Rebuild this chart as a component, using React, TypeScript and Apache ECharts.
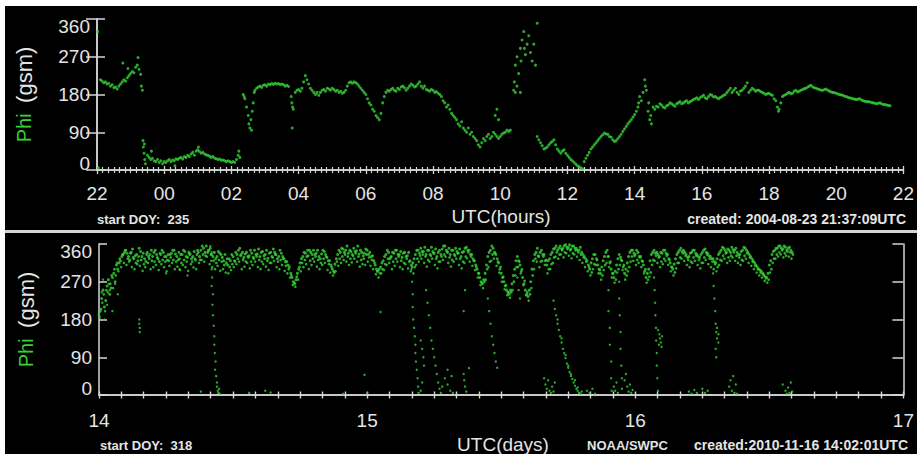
import React, { useEffect, useRef } from "react";
import * as echarts from "echarts";

// ---- tick labels ----
const hourTickLabels = ["22", "00", "02", "04", "06", "08", "10", "12", "14", "16", "18", "20", "22"];
const dayTickLabels = ["14", "15", "16", "17"];

// ---- top panel: [hours since 22 UTC on DOY 235, Phi (deg)] ----
const topPhi: [number, number][] = [
  [0.02, 330], [0.04, 5], [0.1, 215], [0.15, 212], [0.2, 208], [0.25, 210], [0.3, 205], [0.35, 207], [0.4, 200],
  [0.45, 203], [0.5, 196], [0.55, 198], [0.6, 193], [0.65, 200], [0.7, 205], [0.75, 210], [0.77, 255], [0.8, 215],
  [0.85, 212], [0.9, 220], [0.92, 242], [0.95, 225], [1.0, 230], [1.05, 235], [1.1, 232], [1.15, 245], [1.2, 250],
  [1.22, 268], [1.25, 240], [1.3, 228], [1.32, 200], [1.35, 190],
  [1.37, 70], [1.38, 55], [1.4, 40], [1.41, 62], [1.42, 25], [1.44, 15],
  [1.5, 35], [1.55, 30], [1.6, 25], [1.62, 45], [1.65, 28], [1.7, 22], [1.75, 20], [1.8, 25], [1.85, 18], [1.9, 22],
  [1.95, 15], [2.0, 20], [2.05, 18], [2.1, 22], [2.15, 25], [2.2, 20], [2.25, 24], [2.3, 22], [2.32, 10], [2.35, 27],
  [2.4, 25], [2.45, 28], [2.5, 30], [2.55, 26], [2.6, 32], [2.65, 30], [2.7, 35], [2.75, 32], [2.8, 38], [2.85, 42],
  [2.9, 35], [2.95, 45], [3.0, 48], [3.02, 55], [3.05, 44], [3.1, 40], [3.15, 42], [3.2, 38], [3.25, 36], [3.3, 35],
  [3.35, 33], [3.4, 30], [3.45, 32], [3.5, 28], [3.55, 27], [3.6, 25], [3.65, 26], [3.7, 23], [3.75, 24], [3.8, 22],
  [3.85, 20], [3.9, 22], [3.95, 20], [4.0, 18], [4.05, 20], [4.1, 18], [4.15, 25], [4.2, 35], [4.22, 45], [4.25, 30],
  [4.35, 180], [4.38, 175], [4.4, 170], [4.45, 150], [4.5, 130], [4.52, 110], [4.55, 100], [4.58, 120], [4.6, 95],
  [4.62, 140], [4.65, 160], [4.68, 185],
  [4.7, 190], [4.75, 195], [4.8, 198], [4.85, 200], [4.9, 197], [4.95, 202], [5.0, 203], [5.05, 200], [5.1, 205],
  [5.15, 203], [5.2, 206], [5.25, 204], [5.3, 207], [5.35, 205], [5.4, 206], [5.45, 204], [5.5, 205], [5.55, 203],
  [5.6, 200], [5.65, 202], [5.7, 199], [5.78, 175], [5.8, 160], [5.82, 150], [5.84, 145], [5.81, 100],
  [5.9, 185], [5.95, 190], [6.0, 192], [6.05, 188], [6.1, 195], [6.15, 210], [6.2, 225], [6.25, 215], [6.3, 205],
  [6.35, 195], [6.4, 190], [6.45, 185], [6.5, 180], [6.55, 185], [6.6, 178], [6.65, 185], [6.7, 190], [6.75, 192],
  [6.8, 188], [6.85, 195], [6.9, 193], [6.95, 190], [7.0, 195], [7.05, 192], [7.1, 188], [7.15, 190], [7.2, 185],
  [7.25, 188], [7.3, 183], [7.35, 185], [7.4, 190], [7.45, 200], [7.5, 208], [7.55, 210], [7.6, 207], [7.65, 210],
  [7.7, 208], [7.75, 205], [7.8, 200], [7.85, 195], [7.9, 190], [7.95, 185], [8.0, 180], [8.05, 170], [8.1, 160],
  [8.15, 155], [8.2, 145], [8.25, 140], [8.3, 130], [8.35, 125], [8.4, 120], [8.45, 135], [8.5, 160], [8.55, 175],
  [8.6, 185], [8.65, 190], [8.7, 188], [8.75, 192], [8.8, 195], [8.85, 190], [8.9, 188], [8.95, 195], [9.0, 192],
  [9.05, 198], [9.1, 200], [9.15, 196], [9.2, 190], [9.25, 195], [9.3, 200], [9.35, 205], [9.4, 202], [9.45, 198],
  [9.5, 200], [9.55, 205], [9.6, 210], [9.65, 200], [9.7, 195], [9.75, 200], [9.8, 192], [9.85, 190], [9.9, 188],
  [9.95, 192], [10.0, 190], [10.05, 185], [10.1, 187], [10.15, 183], [10.2, 180], [10.25, 175], [10.3, 165],
  [10.35, 160], [10.4, 150], [10.45, 155], [10.5, 145], [10.55, 135], [10.6, 130], [10.65, 125], [10.7, 120],
  [10.75, 110], [10.8, 105], [10.85, 115], [10.9, 100], [10.95, 95], [11.0, 90], [11.05, 100], [11.1, 85], [11.15, 90],
  [11.2, 80], [11.25, 75], [11.3, 70], [11.35, 60], [11.4, 55], [11.45, 65], [11.5, 75], [11.55, 70], [11.6, 80],
  [11.65, 85], [11.7, 75], [11.75, 80], [11.8, 90], [11.85, 85], [11.9, 80], [11.95, 75], [12.0, 80], [12.05, 85],
  [12.1, 88], [12.15, 90], [12.2, 95], [12.25, 92], [12.3, 95], [11.85, 130], [11.9, 145], [11.95, 120],
  [12.4, 190], [12.42, 210], [12.45, 250], [12.5, 270], [12.5, 200], [12.55, 230], [12.6, 290], [12.62, 260],
  [12.65, 310], [12.7, 330], [12.72, 290], [12.75, 275], [12.8, 300], [12.85, 320], [12.9, 280], [12.95, 260],
  [13.0, 300], [13.05, 250], [13.1, 350], [12.6, 185], [12.45, 185],
  [13.1, 80], [13.15, 72], [13.2, 65], [13.25, 58], [13.3, 50], [13.35, 52], [13.4, 55], [13.45, 60], [13.5, 65],
  [13.55, 68], [13.6, 72], [13.65, 60], [13.7, 50], [13.75, 45], [13.8, 40], [13.85, 45], [13.9, 48], [13.95, 40],
  [14.0, 35], [14.05, 30], [14.1, 25], [14.15, 22], [14.2, 18], [14.25, 14], [14.3, 10], [14.35, 8], [14.4, 5],
  [14.45, 3], [14.5, 20], [14.55, 28], [14.6, 35], [14.65, 42], [14.7, 50], [14.75, 55], [14.8, 60], [14.85, 65],
  [14.9, 70], [14.95, 75], [15.0, 80], [15.05, 84], [15.1, 88], [15.15, 86], [15.2, 85], [15.25, 80], [15.3, 78],
  [15.35, 72], [15.4, 68], [15.45, 70], [15.5, 75], [15.55, 80], [15.6, 85], [15.65, 92], [15.7, 98], [15.75, 104],
  [15.8, 110], [15.85, 115], [15.9, 120], [15.95, 126], [16.0, 132], [16.05, 140], [16.1, 150], [16.12, 160],
  [16.15, 175], [16.2, 165], [16.25, 185], [16.3, 215], [16.32, 200], [16.35, 190], [16.4, 140], [16.42, 160],
  [16.45, 120], [16.48, 130], [16.5, 110],
  [16.55, 150], [16.6, 145], [16.65, 152], [16.7, 150], [16.75, 158], [16.8, 155], [16.85, 150], [16.9, 148],
  [16.95, 153], [17.0, 155], [17.05, 160], [17.1, 158], [17.15, 155], [17.2, 152], [17.25, 158], [17.3, 160],
  [17.35, 163], [17.4, 158], [17.45, 160], [17.5, 163], [17.55, 165], [17.6, 160], [17.65, 163], [17.7, 165],
  [17.75, 168], [17.8, 170], [17.85, 172], [17.9, 168], [17.95, 172], [18.0, 175], [18.05, 178], [18.1, 172],
  [18.15, 170], [18.2, 175], [18.25, 180], [18.3, 178], [18.35, 174], [18.4, 175], [18.45, 172], [18.5, 170],
  [18.55, 173], [18.6, 175], [18.65, 178], [18.7, 180], [18.75, 185], [18.8, 190], [18.85, 195], [18.9, 185],
  [18.95, 190], [19.0, 195], [19.05, 185], [19.1, 180], [19.15, 188], [19.2, 190], [19.25, 195], [19.3, 200],
  [19.35, 208], [19.4, 185], [19.45, 190], [19.5, 195], [19.55, 192], [19.6, 188], [19.65, 190], [19.7, 190],
  [19.75, 187], [19.8, 185], [19.85, 183], [19.9, 180], [19.95, 182], [20.0, 183], [20.05, 180], [20.1, 178],
  [20.15, 170], [20.2, 165], [20.25, 150], [20.28, 140], [20.3, 145], [20.35, 160], [20.4, 175], [20.45, 178],
  [20.5, 180], [20.55, 183], [20.6, 185], [20.65, 182], [20.7, 183], [20.75, 188], [20.8, 190], [20.85, 186],
  [20.9, 188], [20.95, 190], [21.0, 192], [21.05, 194], [21.1, 195], [21.15, 198], [21.2, 200], [21.25, 202],
  [21.3, 198], [21.35, 196], [21.4, 195], [21.45, 193], [21.5, 192], [21.55, 190], [21.6, 190], [21.65, 192],
  [21.7, 193], [21.75, 190], [21.8, 188], [21.85, 186], [21.9, 185], [21.95, 184], [22.0, 183], [22.05, 181],
  [22.1, 180], [22.15, 179], [22.2, 178], [22.25, 176], [22.3, 175], [22.35, 173], [22.4, 172], [22.45, 171],
  [22.5, 170], [22.55, 169], [22.6, 168], [22.65, 169], [22.7, 170], [22.75, 167], [22.8, 165], [22.85, 164],
  [22.9, 163], [22.95, 163], [23.0, 162], [23.05, 161], [23.1, 160], [23.15, 159], [23.2, 158], [23.25, 159],
  [23.3, 160], [23.35, 158], [23.4, 156], [23.45, 156], [23.5, 155], [23.55, 154], [23.6, 153],
];

// ---- bottom panel: Phi band, four interleaved series each sampled every 0.01 day ----
const bandStep = 0.01;
const bandAStart = 14.0;
const bandA: number[] = [
  190, 230, 210, 260, 240, 280, 270, 300, 320, 335,
  345, 330, 340, 325, 335, 350, 330, 325, 340, 335,
  330, 345, 325, 335, 340, 330, 320, 338, 345, 330,
  325, 335, 342, 328, 336, 330, 322, 340, 345, 350,
  355, 345, 335, 340, 330, 338, 328, 335, 310, 320,
  330, 340, 345, 335, 328, 340, 332, 338, 345, 336,
  330, 342, 335, 326, 340, 348, 335, 330, 338, 325,
  318, 305, 280, 265, 290, 315, 330, 338, 332, 340,
  345, 338, 330, 336, 342, 328, 320, 300, 312, 335,
  340, 348, 345, 338, 342, 350, 344, 336, 340, 338,
  345, 340, 332, 310, 295, 305, 320, 335, 340, 330,
  338, 345, 335, 328, 340, 332, 320, 315, 335, 345,
  350, 342, 335, 345, 352, 338, 330, 345, 348, 355,
  340, 335, 345, 350, 338, 330, 342, 352, 345, 335,
  320, 300, 280, 265, 290, 330, 345, 350, 335, 315,
  290, 270, 250, 240, 265, 300, 330, 310, 280, 250,
  235, 270, 320, 340, 330, 345, 335, 310, 325, 340,
  350, 345, 355, 350, 358, 352, 348, 355, 350, 345,
  340, 330, 320, 300, 325, 335, 310, 290, 320, 340,
  330, 300, 280, 310, 335, 320, 290, 315, 340, 345,
  335, 340, 330, 310, 280, 300, 335, 345, 340, 330,
  338, 345, 335, 315, 300, 325, 340, 350, 345, 335,
  330, 340, 345, 335, 328, 340, 348, 338, 330, 325,
  315, 335, 345, 350, 340, 345, 352, 345, 340, 335,
  345, 350, 340, 330, 320, 310, 300, 295, 285, 280,
  310, 335, 345, 350, 355, 348, 352, 350, 345,
];
const bandBStart = 14.005;
const bandB: number[] = [
  200, 250, 225, 275, 255, 290, 310, 315, 330, 340,
  338, 322, 348, 332, 320, 342, 338, 318, 330, 345,
  340, 335, 318, 345, 330, 322, 335, 345, 336, 322,
  335, 345, 330, 340, 325, 342, 335, 330, 355, 340,
  340, 350, 330, 325, 342, 335, 320, 315, 325, 335,
  320, 335, 350, 340, 336, 330, 345, 328, 335, 348,
  340, 332, 345, 338, 330, 340, 325, 345, 330, 318,
  310, 290, 270, 275, 300, 325, 340, 330, 345, 335,
  335, 345, 325, 345, 335, 320, 310, 295, 325, 345,
  350, 340, 355, 345, 335, 342, 355, 345, 332, 348,
  335, 330, 320, 300, 300, 315, 330, 345, 325, 340,
  345, 335, 342, 338, 330, 340, 310, 325, 345, 338,
  342, 352, 345, 335, 342, 348, 340, 335, 355, 345,
  350, 345, 335, 342, 348, 340, 350, 345, 335, 325,
  310, 290, 270, 275, 310, 340, 355, 340, 325, 300,
  280, 260, 245, 250, 285, 320, 320, 295, 265, 240,
  250, 300, 335, 350, 340, 335, 320, 320, 335, 348,
  355, 350, 348, 356, 352, 358, 355, 350, 345, 352,
  335, 325, 310, 315, 335, 325, 300, 305, 330, 345,
  315, 290, 295, 325, 328, 305, 300, 330, 345, 338,
  345, 330, 320, 295, 290, 320, 340, 338, 335, 340,
  345, 338, 325, 305, 312, 335, 345, 342, 340, 328,
  338, 345, 338, 330, 335, 345, 340, 332, 325, 318,
  325, 340, 352, 345, 348, 340, 346, 350, 335, 342,
  352, 345, 335, 325, 315, 305, 298, 290, 282, 290,
  320, 342, 350, 355, 350, 355, 345, 352, 340,
];
const bandCStart = 14.0025;
const bandC: number[] = [
  185, 220, 200, 245, 265, 255, 285, 295, 305, 315,
  310, 318, 305, 300, 312, 308, 296, 305, 315, 300,
  305, 310, 298, 312, 305, 295, 308, 315, 300, 306,
  298, 310, 305, 296, 312, 304, 300, 315, 322, 318,
  330, 312, 305, 300, 308, 296, 300, 292, 290, 298,
  305, 312, 318, 300, 306, 315, 302, 310, 318, 305,
  300, 312, 306, 298, 315, 320, 305, 300, 310, 296,
  290, 280, 262, 258, 275, 295, 305, 312, 300, 310,
  318, 306, 300, 310, 315, 298, 292, 285, 295, 308,
  315, 322, 318, 310, 316, 325, 318, 306, 312, 310,
  318, 308, 300, 288, 280, 290, 298, 310, 315, 300,
  308, 318, 305, 300, 312, 302, 295, 290, 310, 318,
  325, 315, 306, 318, 325, 310, 302, 318, 322, 330,
  315, 306, 318, 325, 310, 302, 315, 326, 318, 308,
  298, 280, 262, 255, 275, 305, 320, 325, 308, 292,
  270, 252, 238, 232, 250, 285, 305, 290, 262, 238,
  225, 255, 300, 318, 305, 320, 310, 290, 300, 315,
  330, 325, 335, 328, 338, 332, 326, 335, 330, 322,
  315, 305, 295, 285, 300, 310, 290, 275, 298, 315,
  305, 280, 268, 292, 310, 298, 275, 295, 318, 320,
  310, 315, 305, 290, 268, 282, 310, 320, 315, 305,
  312, 320, 310, 295, 285, 302, 315, 325, 320, 310,
  305, 315, 320, 310, 302, 315, 322, 312, 305, 300,
  295, 310, 320, 325, 315, 320, 328, 320, 315, 310,
  320, 325, 315, 308, 300, 292, 285, 280, 272, 268,
  292, 315, 325, 330, 335, 328, 332, 330, 325,
];
const bandDStart = 14.0075;
const bandD: number[] = [
  205, 240, 250, 265, 285, 300, 315, 325, 335, 345,
  325, 338, 328, 315, 330, 322, 312, 335, 325, 320,
  318, 328, 338, 322, 318, 335, 328, 322, 318, 340,
  315, 322, 318, 335, 318, 325, 345, 322, 335, 332,
  345, 335, 320, 315, 322, 318, 310, 325, 305, 312,
  318, 325, 332, 322, 318, 328, 318, 325, 330, 322,
  318, 325, 320, 315, 328, 335, 318, 322, 325, 308,
  300, 285, 268, 282, 305, 315, 322, 345, 320, 325,
  330, 322, 315, 325, 330, 312, 305, 292, 318, 325,
  330, 335, 330, 325, 332, 338, 330, 322, 325, 335,
  328, 322, 315, 295, 290, 300, 312, 325, 328, 318,
  325, 330, 320, 315, 325, 318, 305, 305, 325, 332,
  335, 330, 322, 332, 338, 325, 318, 330, 335, 342,
  328, 322, 332, 338, 325, 318, 330, 340, 330, 320,
  305, 290, 268, 270, 300, 318, 335, 338, 318, 305,
  282, 262, 245, 245, 270, 305, 318, 300, 272, 245,
  240, 285, 325, 332, 318, 330, 322, 300, 312, 328,
  340, 335, 345, 340, 348, 345, 338, 345, 340, 335,
  328, 318, 305, 292, 312, 322, 298, 285, 310, 330,
  318, 290, 275, 300, 322, 310, 285, 305, 330, 332,
  322, 328, 318, 300, 275, 292, 322, 332, 328, 318,
  325, 332, 322, 305, 292, 315, 328, 338, 332, 322,
  318, 328, 332, 322, 315, 328, 335, 325, 318, 312,
  305, 322, 332, 338, 328, 332, 340, 332, 328, 322,
  332, 338, 328, 318, 308, 300, 292, 288, 278, 275,
  300, 325, 335, 340, 345, 338, 342, 340, 335,
];
// streaks and wrapped points near 0 deg: [day, Phi]
const bottomScatter: [number, number][] = [
  [14.01, 245], [14.015, 275], [14.02, 180], [14.03, 215], [14.04, 250], [14.05, 200], [14.06, 265], [14.07, 240],
  [14.15, 180], [14.15, 170], [14.152, 160], [14.152, 150], [14.25, 290], [14.3, 300], [14.33, 285],
  [14.415, 355], [14.42, 340], [14.418, 320], [14.42, 300], [14.422, 280], [14.42, 260], [14.425, 240], [14.423, 215],
  [14.425, 190], [14.428, 165], [14.43, 140], [14.43, 120], [14.432, 100], [14.435, 80], [14.433, 60], [14.437, 45],
  [14.44, 30], [14.44, 20], [14.443, 10], [14.445, 5], [14.448, 15], [14.45, 3],
  [14.38, 8], [14.56, 5], [14.62, 10], [14.64, 6], [14.99, 48], [14.91, 3], [15.0, 4], [15.05, 198],
  [15.165, 300], [15.168, 270], [15.17, 240], [15.17, 210], [15.172, 180], [15.175, 160], [15.178, 140], [15.18, 120],
  [15.18, 100], [15.182, 80], [15.185, 60], [15.188, 40], [15.19, 20], [15.192, 5], [15.2, 10], [15.205, 30],
  [15.2, 130], [15.205, 110], [15.21, 90], [15.212, 70],
  [15.22, 250], [15.225, 220], [15.23, 190], [15.235, 160], [15.24, 130], [15.245, 110], [15.25, 90], [15.255, 70],
  [15.26, 50], [15.265, 30], [15.27, 15], [15.275, 5], [15.28, 20], [15.29, 40], [15.3, 60], [15.3, 25], [15.31, 10],
  [15.315, 45], [15.32, 5],
  [15.36, 50], [15.362, 35], [15.365, 20], [15.37, 8], [15.365, 250], [15.36, 200], [15.38, 64],
  [15.45, 230], [15.455, 200], [15.46, 170], [15.465, 140], [15.47, 120], [15.475, 100], [15.48, 80], [15.485, 65],
  [15.56, 280], [15.565, 250], [15.57, 230],
  [15.66, 40], [15.665, 25], [15.67, 15], [15.675, 35], [15.68, 10], [15.685, 5], [15.69, 20], [15.695, 8], [15.7, 30],
  [15.695, 225], [15.7, 205], [15.705, 190], [15.71, 170], [15.715, 155], [15.72, 140], [15.725, 125], [15.73, 110],
  [15.735, 100], [15.74, 88], [15.745, 75], [15.75, 65], [15.755, 55], [15.76, 45], [15.765, 38], [15.77, 30],
  [15.775, 22], [15.78, 15], [15.785, 10], [15.79, 5], [15.795, 3], [15.8, 8],
  [15.71, 180], [15.725, 135], [15.74, 95], [15.75, 70], [15.76, 50], [15.775, 35], [15.785, 18],
  [15.82, 10], [15.83, 5], [15.84, 15], [15.85, 3],
  [15.9, 250], [15.9, 200], [15.905, 160], [15.905, 120], [15.91, 80], [15.91, 40], [15.912, 10],
  [15.94, 270], [15.94, 230], [15.942, 190], [15.945, 150], [15.945, 110], [15.948, 70], [15.95, 40],
  [15.92, 20], [15.925, 10], [15.93, 30], [15.935, 5], [15.95, 15], [15.96, 35], [15.965, 50], [15.97, 20],
  [15.975, 8], [15.98, 25], [15.985, 5], [15.99, 12],
  [16.07, 280], [16.072, 250], [16.074, 220], [16.075, 190], [16.077, 160], [16.078, 130], [16.08, 100], [16.08, 70],
  [16.082, 40], [16.085, 10],
  [16.085, 155], [16.09, 145], [16.092, 135], [16.095, 125], [16.098, 115], [16.1, 140], [16.088, 120],
  [16.2, 8], [16.21, 3], [16.22, 12], [16.23, 5], [16.25, 15], [16.26, 5], [16.27, 10],
  [16.29, 290], [16.292, 260], [16.295, 230], [16.298, 200], [16.3, 170], [16.302, 150], [16.305, 135], [16.31, 125],
  [16.31, 145], [16.305, 160], [16.3, 110], [16.302, 90],
  [16.35, 20], [16.355, 35], [16.36, 10], [16.365, 45], [16.37, 5], [16.375, 25], [16.38, 3],
  [16.55, 25], [16.56, 10], [16.565, 3], [16.57, 18], [16.575, 5], [16.58, 30], [16.585, 8],
];

const FONT = '"Liberation Sans", Arial, sans-serif';
const AXIS = "#d6d6d6";
const TXT = "#e4e4e4";
const GREEN = "#36d336";

export default function App() {
  const ref = useRef<HTMLDivElement>(null);
  useEffect(() => {
    const chart = echarts.init(ref.current!, null, { renderer: "svg" });
    const sample = (vals: number[], start: number) => vals.map((v, i) => [start + i * bandStep, v]);

    const yLabel = {
      color: TXT,
      fontSize: 19,
      fontFamily: FONT,
      margin: 7,
      formatter: (v: number) => (v === 360 ? `{t|${v}}` : v === 0 ? `{b|${v}}` : `${v}`),
      rich: {
        t: { color: TXT, fontSize: 19, fontFamily: FONT, padding: [14, 0, 0, 0] },
        b: { color: TXT, fontSize: 19, fontFamily: FONT, padding: [0, 0, 14, 0] },
      },
    };
    const yName = {
      name: "{g|Phi}  {w|(gsm)}",
      nameLocation: "middle" as const,
      nameRotate: 90,
      nameGap: 62,
      nameTextStyle: {
        fontSize: 19,
        fontFamily: FONT,
        rich: {
          g: { color: GREEN, fontSize: 20, fontFamily: FONT },
          w: { color: TXT, fontSize: 22, fontFamily: FONT },
        },
      },
    };
    const line = { show: true, lineStyle: { color: AXIS, width: 1.5 } };

    const leftY = (grid: number) => ({
      type: "value" as const, gridIndex: grid, min: 0, max: 360, interval: 90, position: "left" as const,
      axisLine: line, splitLine: { show: false },
      axisTick: { show: true, inside: true, length: 8, lineStyle: { color: AXIS, width: 1.5 } },
      axisLabel: yLabel, ...yName,
    });
    const rightY = (grid: number) => ({
      type: "value" as const, gridIndex: grid, min: 0, max: 360, interval: 90, position: "right" as const,
      axisLine: line, splitLine: { show: false },
      axisTick: { show: true, inside: true, length: 11, lineStyle: { color: AXIS, width: 1.5 } },
      axisLabel: { show: false },
    });

    const hourX = (pos: "top" | "bottom", labels: boolean) => ({
      type: "value" as const, gridIndex: 0, min: 0, max: 24, interval: 2, position: pos,
      axisLine: line, splitLine: { show: false },
      axisTick: { show: true, inside: true, length: 4, lineStyle: { color: AXIS, width: 1.3 } },
      minorTick: { show: true, splitNumber: 12, length: 3, lineStyle: { color: AXIS, width: 1.2 } },
      axisLabel: {
        show: labels, color: TXT, fontSize: 19, fontFamily: FONT, margin: 14,
        formatter: (v: number) => hourTickLabels[Math.round(v / 2)] ?? "",
      },
    });
    const dayX = (pos: "top" | "bottom", labels: boolean) => ({
      type: "value" as const, gridIndex: 1, min: 14, max: 17, interval: 1, position: pos,
      axisLine: line, splitLine: { show: false },
      axisTick: { show: true, inside: true, length: 3.5, lineStyle: { color: AXIS, width: 1.4 } },
      minorTick: { show: true, splitNumber: 12, length: 3.5, lineStyle: { color: AXIS, width: 1.4 } },
      axisLabel: {
        show: labels, color: TXT, fontSize: 19, fontFamily: FONT, margin: 16,
        formatter: (v: number) => dayTickLabels[Math.round(v - 14)] ?? "",
      },
    });

    const small = (text: string, x: number, y: number, align: string, size = 13) => ({
      type: "text", x, y, silent: true,
      style: { text, fill: TXT, font: `bold ${size}px ${FONT}`, textAlign: align, textVerticalAlign: "middle" },
    });
    const big = (text: string, x: number, y: number) => ({
      type: "text", x, y, silent: true,
      style: { text, fill: TXT, font: `19px ${FONT}`, textAlign: "center", textVerticalAlign: "middle" },
    });
    const scatter = (xi: number, data: number[][], size: number) => ({
      type: "scatter", xAxisIndex: xi, yAxisIndex: xi, data, symbolSize: size,
      itemStyle: { color: GREEN }, silent: true,
    });

    chart.setOption({
      animation: false,
      backgroundColor: "#ffffff",
      textStyle: { fontFamily: FONT },
      grid: [
        { left: 97, top: 19, width: 811, height: 151 },
        { left: 99, top: 244, width: 809, height: 151 },
      ],
      xAxis: [hourX("bottom", true), hourX("top", false), dayX("bottom", true), dayX("top", false)],
      yAxis: [leftY(0), rightY(0), leftY(1), rightY(1)],
      graphic: [
        { type: "rect", z: -10, silent: true, shape: { x: 5, y: 6, width: 912, height: 448 }, style: { fill: "#000" } },
        { type: "rect", z: -9, silent: true, shape: { x: 5, y: 230, width: 912, height: 3 }, style: { fill: "#d4d4d4" } },
        small("start DOY:  235", 97, 219, "left"),
        big("UTC(hours)", 501, 216),
        small("created: 2004-08-23 21:37:09UTC", 906, 219, "right", 14),
        small("start DOY:  318", 100, 445, "left"),
        big("UTC(days)", 503, 444),
        small("NOAA/SWPC", 587, 445, "left"),
        small("created:2010-11-16 14:02:01UTC", 908, 445, "right", 14),
      ],
      series: [
        scatter(0, topPhi, 3),
        scatter(2, sample(bandA, bandAStart), 3),
        scatter(2, sample(bandB, bandBStart), 3),
        scatter(2, sample(bandC, bandCStart), 2.6),
        scatter(2, sample(bandD, bandDStart), 2.8),
        scatter(2, bottomScatter, 2.4),
      ],
    });
    return () => chart.dispose();
  }, []);
  return <div ref={ref} style={{ position: "absolute", left: 0, top: 0, width: 917, height: 454 }} />;
}
